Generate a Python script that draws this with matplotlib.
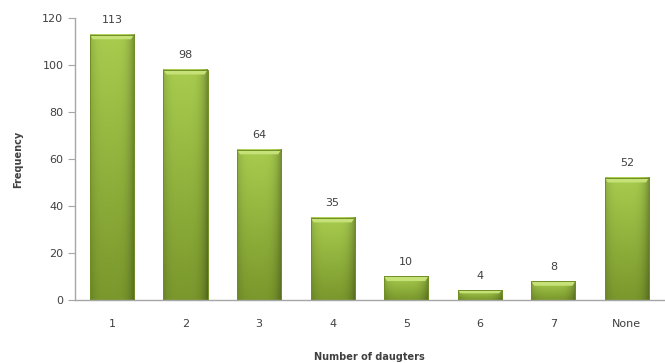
import numpy as np
import matplotlib.pyplot as plt

categories = ['1', '2', '3', '4', '5', '6', '7', 'None']
freq = [113, 98, 64, 35, 10, 4, 8, 52]

fig = plt.figure(figsize=(6.65, 3.63), dpi=100)
ax = fig.add_axes([0.113, 0.174, 0.885, 0.776])

x = np.arange(len(categories))
bars = ax.bar(x, freq, width=0.6, color='none', edgecolor='none', zorder=2)

# rough cylinder shading: darker at sides and bottom, lighter at top
xs = np.linspace(0, 1, 64)
side = 1 - 0.22 * (np.abs(xs - 0.45) * 2) ** 4
bottom_c = np.array([0x7a, 0x98, 0x2c]) / 255
top_c = np.array([0xa8, 0xcc, 0x4e]) / 255
for b in bars:
    x0, y0 = b.get_x(), b.get_y()
    w, h = b.get_width(), b.get_height()
    ys = np.linspace(0, 1, 64)[:, None, None]
    img = (bottom_c + ys * (top_c - bottom_c)) * side[None, :, None]
    img = np.clip(img, 0, 1)
    ax.imshow(img, extent=[x0, x0 + w, y0, y0 + h], origin='lower', aspect='auto', zorder=2, interpolation='bilinear')
    bev = min(2.0, h * 0.3)
    ax.fill([x0, x0 + w, x0 + w - 0.04, x0 + 0.04], [y0 + h, y0 + h, y0 + h - bev, y0 + h - bev],
            color='#c6e177', zorder=3, lw=0)
    ax.plot([x0, x0, x0 + w, x0 + w], [y0, y0 + h, y0 + h, y0], color='#6f8f25', lw=0.7, zorder=4)
    ax.text(x0 + w / 2, y0 + h + 4, str(int(h)), ha='center', va='bottom', fontsize=8, color='#404040', zorder=5)

ax.set_xlim(-0.5, len(categories) - 0.5)
ax.set_ylim(0, 120)
ax.set_yticks(range(0, 121, 20))
ax.set_xticks(x)
ax.set_xticklabels(categories)

for s in ['top', 'right']:
    ax.spines[s].set_visible(False)
for s in ['left', 'bottom']:
    ax.spines[s].set_color('#a6a6a6')
    ax.spines[s].set_linewidth(1.0)
ax.tick_params(axis='y', colors='#a6a6a6', labelcolor='#404040', labelsize=8, length=5, direction='out')
ax.tick_params(axis='x', length=0, labelcolor='#404040', labelsize=8, pad=14)

ax.set_xlabel('Number of daugters', fontsize=7, fontweight='bold', color='#404040', labelpad=16)
ax.set_ylabel('Frequency', fontsize=7, fontweight='bold', color='#404040', labelpad=14)

fig.savefig('out.png', dpi=100)
